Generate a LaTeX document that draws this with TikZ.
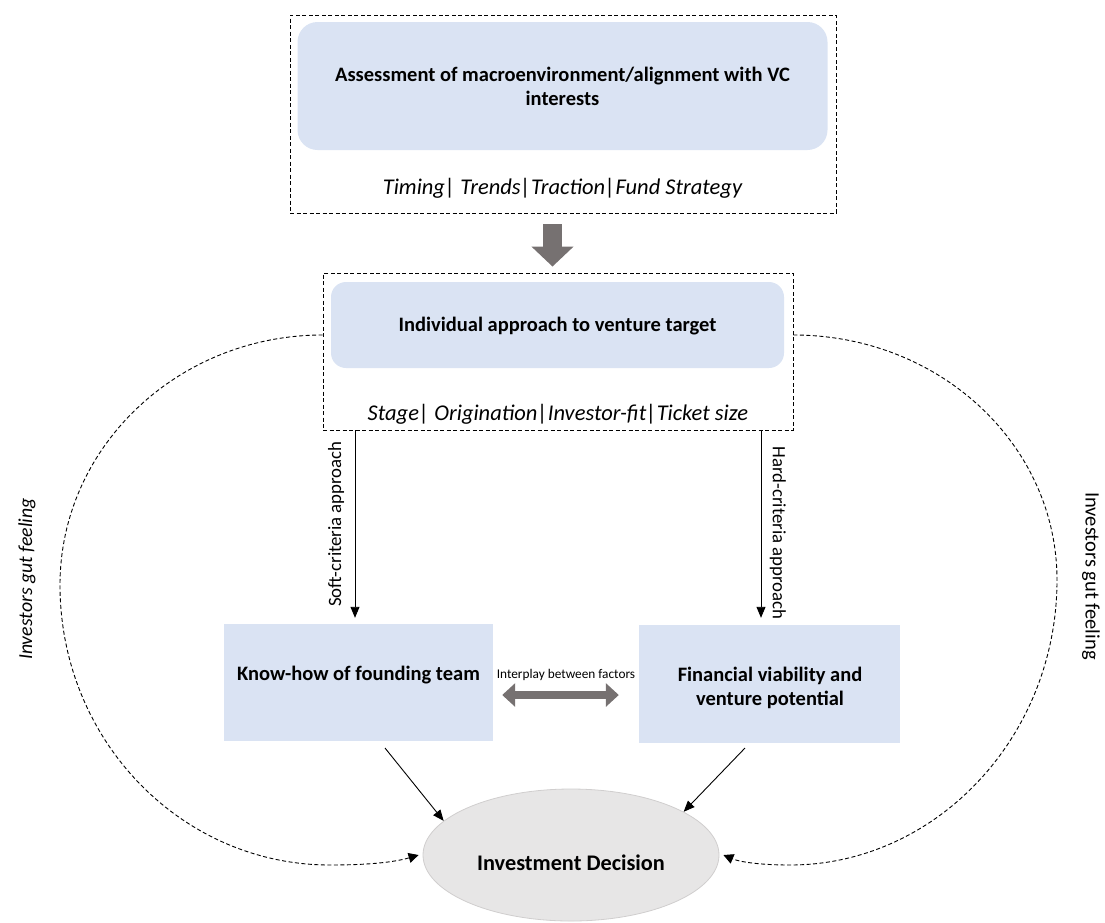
\documentclass[tikz,border=0pt]{standalone}
\usepackage{fontspec}
\setmainfont{Carlito}
\usetikzlibrary{arrows.meta,shapes.geometric,calc}
\definecolor{boxblue}{HTML}{DAE3F3}
\definecolor{arrowgray}{HTML}{767171}
\definecolor{ellfill}{HTML}{E7E6E6}
\definecolor{ellline}{HTML}{D0CECE}
\begin{document}
\begin{tikzpicture}[x=1pt,y=-1pt,
  softbox/.style={fill=boxblue, draw=none, inner sep=0pt, rounded corners=#1},
  flatbox/.style={fill=boxblue, draw=none, inner sep=0pt},
  frame/.style={draw=black, line width=0.9pt, dash pattern=on 4pt off 2.5pt, inner sep=0pt},
  title/.style={font=\fontsize{20.5}{24}\selectfont\bfseries, align=center, inner sep=0pt},
  tags/.style={font=\fontsize{22.5}{26}\selectfont\itshape, inner sep=0pt},
  side/.style={font=\fontsize{18.8}{22}\selectfont, inner sep=0pt},
  gutL/.style={font=\fontsize{19.8}{24}\selectfont\itshape, inner sep=0pt},
  gutR/.style={font=\fontsize{20.5}{24}\selectfont, inner sep=0pt},
  thin/.style={draw=black, line width=0.9pt, -{Triangle[length=11pt,width=9pt]}},
  gutline/.style={draw=black, line width=0.9pt, dash pattern=on 4pt off 2.5pt,
    -{Triangle[length=10pt,width=10pt]}},
  bigarrow/.style={draw=arrowgray, line width=19pt, -{Triangle[length=20pt,width=41pt]}},
  twoway/.style={draw=arrowgray, line width=8.5pt,
    {Triangle[length=13pt,width=23pt]}-{Triangle[length=13pt,width=23pt]}}
]
\useasboundingbox (0,0) rectangle (1105,922);

% top stage: macro environment
\node[frame, minimum width=546pt, minimum height=198pt] (frameA) at (563,114) {};
\node[softbox=20pt, minimum width=530pt, minimum height=128pt] (boxA) at (562.5,86) {};
\node[title] (titleA) at (562.5,86) {Assessment of macroenvironment/alignment with VC\\interests};
\node[tags] (tagsA) at (562.5,188) {Timing|\ Trends|Traction|Fund Strategy};

% second stage: individual approach
\node[frame, minimum width=470pt, minimum height=157pt] (frameB) at (558,351.5) {};
\node[softbox=15pt, minimum width=453pt, minimum height=86pt] (boxB) at (557.5,325) {};
\node[title] (titleB) at (557.5,326) {Individual approach to venture target};
\node[tags] (tagsB) at (558,414) {Stage|\ Origination|Investor-fit|Ticket size};

% factor boxes
\node[flatbox, minimum width=269pt, minimum height=117pt] (team) at (358.5,682.5) {};
\node[title] (teamTxt) at (358.5,675) {Know-how of founding team};
\node[flatbox, minimum width=261pt, minimum height=118pt] (fin) at (769.5,684) {};
\node[title] (finTxt) at (770,688) {Financial viability and\\venture potential};

% decision
\node[ellipse, fill=ellfill, draw=ellline, line width=0.8pt, inner sep=0pt,
  minimum width=296pt, minimum height=132pt] (dec) at (571,855) {};
\node[font=\fontsize{22.3}{26}\selectfont\bfseries, inner sep=0pt] (decTxt) at (571,863)
  {Investment Decision};

% stage transition
\coordinate (downTop) at (frameA.south -| 552.5,0);
\coordinate (downBot) at (frameB.north -| 552.5,0);
\draw[bigarrow, shorten <=11pt, shorten >=6pt] (downTop) -- (downBot);

% approaches
\coordinate (softTop) at (frameB.south -| 355,0);
\coordinate (hardTop) at (frameB.south -| 761,0);
\draw[thin] (softTop) -- ([yshift=6pt]team.north -| softTop);
\draw[thin] (hardTop) -- ([yshift=7pt]fin.north -| hardTop);
\node[side, rotate=90] (softLbl) at (336,524) {Soft-criteria approach};
\node[side, rotate=-90] (hardLbl) at (778,533) {Hard-criteria approach};

% interplay
\draw[twoway, shorten <=9pt, shorten >=20pt] (team.east |- 0,695) -- (fin.west |- 0,695);
\node[font=\fontsize{13.3}{15}\selectfont, inner sep=0pt] (interLbl) at (566,675) {Interplay between factors};

% into the decision
\coordinate (teamOut) at (385,748);
\coordinate (finOut) at (745,748);
\draw[thin] (teamOut) -- (dec.165);
\draw[thin] (finOut) -- (dec.21);

% gut feeling loops
\draw[gutline] ([yshift=16.5pt]frameB.west)
  .. controls (178,335) and (60,447) .. (60,585)
  .. controls (60,740) and (181,865) .. (330,865)
  .. controls (370,865) and (395,862) .. ([xshift=-4pt]dec.west);
\draw[gutline] ([yshift=16.5pt]frameB.east)
  .. controls (940,335) and (1057,445) .. (1057,580)
  .. controls (1057,737) and (936,865) .. (790,865)
  .. controls (760,865) and (740,862) .. ([xshift=4pt]dec.east);
\node[gutL, rotate=90] (gutLeft) at (27,579) {Investors gut feeling};
\node[gutR, rotate=-90] (gutRight) at (1091,576) {Investors gut feeling};
\end{tikzpicture}
\end{document}
